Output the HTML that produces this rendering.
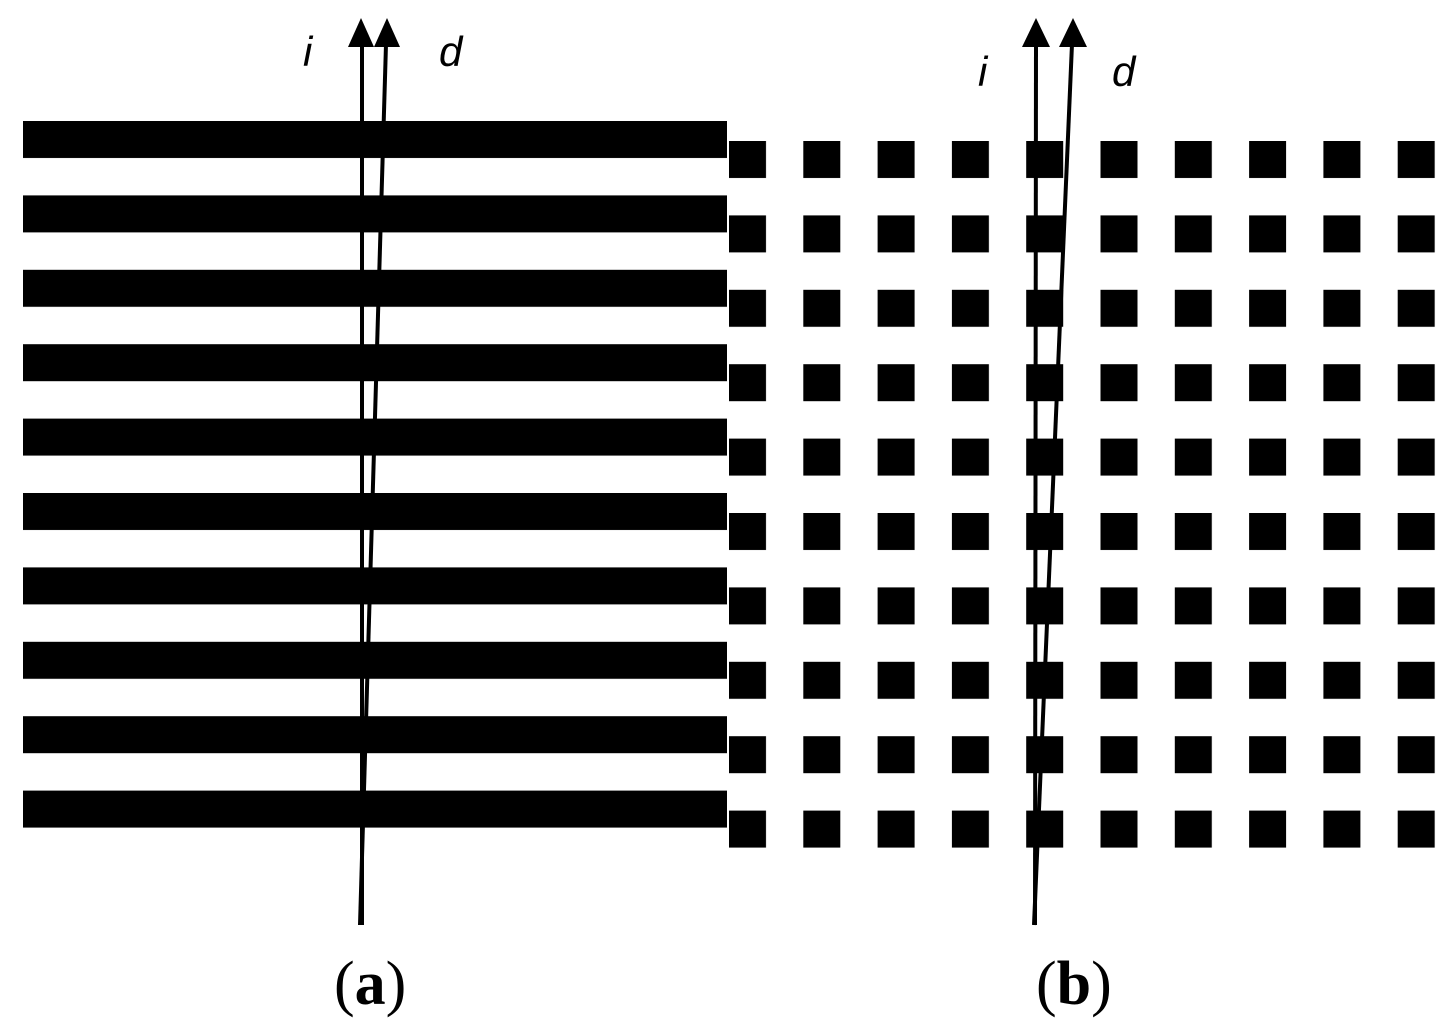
<!DOCTYPE html>
<html><head><meta charset="utf-8"><style>
html,body{margin:0;padding:0;background:#fff;}
svg{display:block;}
</style></head><body>
<svg width="1449" height="1031" viewBox="0 0 1449 1031" xmlns="http://www.w3.org/2000/svg">
<defs>
<pattern id="bars" patternUnits="userSpaceOnUse" x="23" y="121" width="704" height="74.4">
<rect x="0" y="0" width="704" height="37" fill="#000"/>
</pattern>
<pattern id="sq" patternUnits="userSpaceOnUse" x="729" y="141" width="74.3" height="74.4">
<rect x="0" y="0" width="37" height="37" fill="#000"/>
</pattern>
</defs>
<rect x="23" y="121" width="704" height="707" fill="url(#bars)"/>
<rect x="729" y="141" width="720" height="707" fill="url(#sq)"/>
<g stroke="#000" stroke-width="4" fill="none">
<line x1="362" y1="44" x2="362" y2="925"/>
<line x1="386" y1="44" x2="360" y2="925"/>
<line x1="1036" y1="44" x2="1035" y2="925"/>
<line x1="1072" y1="44" x2="1034" y2="925"/>
</g>
<g fill="#000">
<polygon points="361,18 348,47 374,47"/>
<polygon points="387,18 374,47 400,47"/>
<polygon points="1036,18 1022,47 1050,47"/>
<polygon points="1073,18 1059,47 1087,47"/>
</g>
<g font-family="Liberation Sans, sans-serif" font-style="italic" font-size="42" fill="#000">
<text x="303" y="66">i</text>
<text x="439" y="66">d</text>
<text x="978" y="86">i</text>
<text x="1112" y="86">d</text>
</g>
<g font-family="Liberation Serif, serif" font-size="62" fill="#000">
<text x="334" y="1004">(<tspan font-weight="bold">a</tspan>)</text>
<text x="1036" y="1004">(<tspan font-weight="bold">b</tspan>)</text>
</g>
</svg>
</body></html>
